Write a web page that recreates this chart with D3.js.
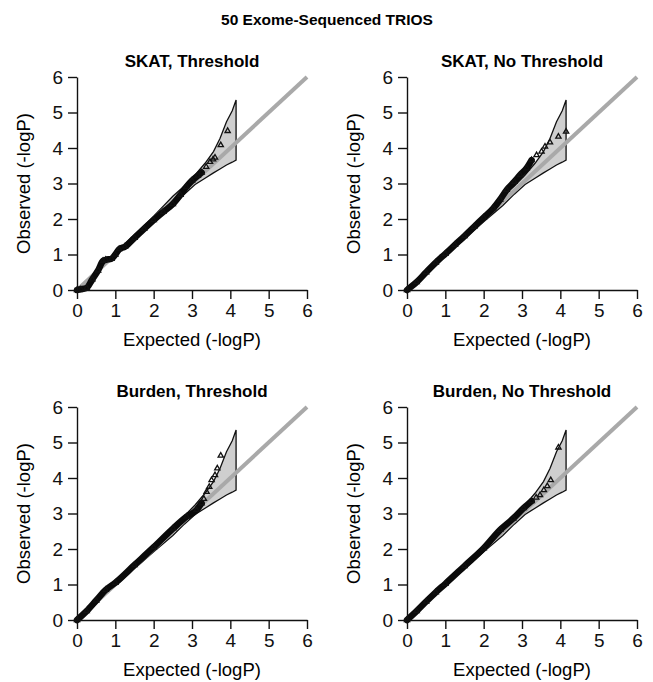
<!DOCTYPE html>
<html>
<head>
<meta charset="utf-8">
<script src="https://cdn.jsdelivr.net/npm/d3@7"></script>
<style>
  body { margin: 0; background: #fff; }
  svg { font-family: "Liberation Sans", Arial, sans-serif; }
</style>
</head>
<body>
<div id="vis"></div>
<script>
// ----------------
// 1. Data
// ----------------
const mainTitle = "50 Exome-Sequenced TRIOS";
const panelTitles = ["SKAT, Threshold", "SKAT, No Threshold", "Burden, Threshold", "Burden, No Threshold"];
const ticks = [0, 1, 2, 3, 4, 5, 6];

// 95% band, shared by all panels
const bandExpected = [0, 1, 2, 2.5, 2.8, 3.08, 3.34, 3.56, 3.73, 3.9, 4.05, 4.15];
const bandUpper    = [0.01, 1.04, 2.08, 2.64, 2.93, 3.24, 3.57, 3.9, 4.27, 4.74, 5.05, 5.35];
const bandLower    = [0, 0.97, 1.92, 2.38, 2.7, 2.97, 3.15, 3.3, 3.41, 3.52, 3.6, 3.66];

// observed vs expected, dense part then single tail points
const skatThrExp = [0, 0.1, 0.25, 0.4, 0.55, 0.68, 0.75, 0.9, 1.0, 1.1, 1.25, 1.5, 1.75, 2.0, 2.25, 2.5, 2.7, 2.85, 3.0, 3.15, 3.25, 3.37, 3.47, 3.55, 3.6, 3.75, 3.93];
const skatThrObs = [0, 0.02, 0.06, 0.3, 0.55, 0.82, 0.85, 0.88, 1.0, 1.15, 1.22, 1.47, 1.72, 1.97, 2.2, 2.42, 2.68, 2.9, 3.08, 3.22, 3.31, 3.47, 3.61, 3.68, 3.73, 4.08, 4.48];
const skatThrDense = 21;

const skatNoExp = [0, 0.25, 0.5, 0.75, 1, 1.25, 1.5, 1.75, 2, 2.25, 2.43, 2.6, 2.8, 2.95, 3.12, 3.25, 3.38, 3.51, 3.6, 3.73, 3.95, 4.15];
const skatNoObs = [0, 0.22, 0.5, 0.77, 1.02, 1.27, 1.52, 1.78, 2.04, 2.3, 2.55, 2.82, 3.05, 3.24, 3.43, 3.66, 3.8, 3.9, 4.04, 4.16, 4.32, 4.46];
const skatNoDense = 16;

const burdenThrExp = [0, 0.25, 0.5, 0.75, 1, 1.5, 2, 2.51, 2.86, 3.12, 3.25, 3.31, 3.38, 3.45, 3.51, 3.6, 3.66, 3.75];
const burdenThrObs = [0, 0.25, 0.55, 0.85, 1.05, 1.55, 2.05, 2.58, 2.91, 3.1, 3.29, 3.41, 3.61, 3.75, 3.94, 4.08, 4.27, 4.63];
const burdenThrDense = 11;

const burdenNoExp = [0, 0.25, 0.5, 0.75, 1, 1.5, 2, 2.43, 2.77, 3.04, 3.25, 3.37, 3.47, 3.57, 3.66, 3.75, 3.95];
const burdenNoObs = [0, 0.25, 0.52, 0.78, 1.02, 1.52, 2.02, 2.54, 2.86, 3.15, 3.35, 3.45, 3.52, 3.66, 3.77, 3.94, 4.86];
const burdenNoDense = 11;

const panels = [
    {title: panelTitles[0], exp: skatThrExp, obs: skatThrObs, dense: skatThrDense},
    {title: panelTitles[1], exp: skatNoExp, obs: skatNoObs, dense: skatNoDense},
    {title: panelTitles[2], exp: burdenThrExp, obs: burdenThrObs, dense: burdenThrDense},
    {title: panelTitles[3], exp: burdenNoExp, obs: burdenNoObs, dense: burdenNoDense}
];

// ----------------
// 2. Dimensions
// ----------------
const dimensions = {
    width: 653,
    height: 682,
    plotWidth: 230,
    plotHeight: 213,
    origins: [[77, 77], [407, 77], [77, 407], [407, 407]]
};

const svg = d3.select("#vis")
    .append("svg")
    .attr("width", dimensions.width)
    .attr("height", dimensions.height);

svg.append("text")
    .attr("x", 327)
    .attr("y", 25)
    .attr("text-anchor", "middle")
    .attr("font-size", 15.5)
    .attr("font-weight", "bold")
    .text(mainTitle);

const xScale = d3.scaleLinear().domain([0, 6]).range([0, dimensions.plotWidth]);
const yScale = d3.scaleLinear().domain([0, 6]).range([dimensions.plotHeight, 0]);

// ----------------
// 3. Draw panels
// ----------------
panels.forEach((p, i) => {
    const [ox, oy] = dimensions.origins[i];
    const g = svg.append("g").attr("transform", `translate(${ox}, ${oy})`);

    // band polygon
    const upperPts = bandExpected.map((e, k) => [xScale(e), yScale(bandUpper[k])]);
    const lowerPts = bandExpected.map((e, k) => [xScale(e), yScale(bandLower[k])]).reverse();
    g.append("path")
        .attr("d", d3.line()(upperPts.concat(lowerPts)) + "Z")
        .attr("fill", "#cfcfcf")
        .attr("stroke", "#111")
        .attr("stroke-width", 1.3)
        .attr("stroke-linejoin", "miter");

    // identity line
    g.append("line")
        .attr("x1", xScale(0)).attr("y1", yScale(0))
        .attr("x2", xScale(6)).attr("y2", yScale(6))
        .attr("stroke", "#a9a9a9")
        .attr("stroke-width", 4);

    // dense stretch of overlapping points
    const pts = p.exp.map((e, k) => [e, p.obs[k]]);
    g.append("path")
        .datum(pts.slice(0, p.dense))
        .attr("d", d3.line().x(d => xScale(d[0])).y(d => yScale(d[1])).curve(d3.curveMonotoneX))
        .attr("fill", "none")
        .attr("stroke", "#0a0a0a")
        .attr("stroke-width", 6.5)
        .attr("stroke-linecap", "round")
        .attr("stroke-linejoin", "round");

    g.selectAll(".pt")
        .data(pts)
        .join("path")
        .attr("class", "pt")
        .attr("transform", d => `translate(${xScale(d[0])}, ${yScale(d[1])})`)
        .attr("d", d3.symbol(d3.symbolTriangle, 12))
        .attr("fill", "none")
        .attr("stroke", "#111")
        .attr("stroke-width", 1.3);

    // axes
    const xAxis = g.append("g")
        .attr("transform", `translate(0, ${dimensions.plotHeight})`)
        .call(d3.axisBottom(xScale).tickValues(ticks).tickFormat(d3.format("d")).tickSize(9).tickSizeOuter(0));
    const yAxis = g.append("g")
        .call(d3.axisLeft(yScale).tickValues(ticks).tickFormat(d3.format("d")).tickSize(9).tickSizeOuter(0));
    [xAxis, yAxis].forEach(a => {
        a.selectAll("path, line").attr("stroke", "#111").attr("stroke-width", 1.4);
        a.selectAll("text").attr("font-size", 19).attr("fill", "#111")
            .attr("font-family", "'Liberation Sans', Arial, sans-serif");
    });
    xAxis.selectAll("text").attr("dy", "0.71em").attr("y", 14);
    yAxis.selectAll("text").attr("x", -14);

    g.append("text")
        .attr("x", dimensions.plotWidth / 2)
        .attr("y", -10)
        .attr("text-anchor", "middle")
        .attr("font-size", 17)
        .attr("font-weight", "bold")
        .text(p.title);

    g.append("text")
        .attr("x", dimensions.plotWidth / 2)
        .attr("y", dimensions.plotHeight + 56)
        .attr("text-anchor", "middle")
        .attr("font-size", 18.5)
        .text("Expected (-logP)");

    g.append("text")
        .attr("transform", `translate(-47, ${dimensions.plotHeight / 2}) rotate(-90)`)
        .attr("text-anchor", "middle")
        .attr("font-size", 18.5)
        .text("Observed (-logP)");
});
</script>
</body>
</html>
